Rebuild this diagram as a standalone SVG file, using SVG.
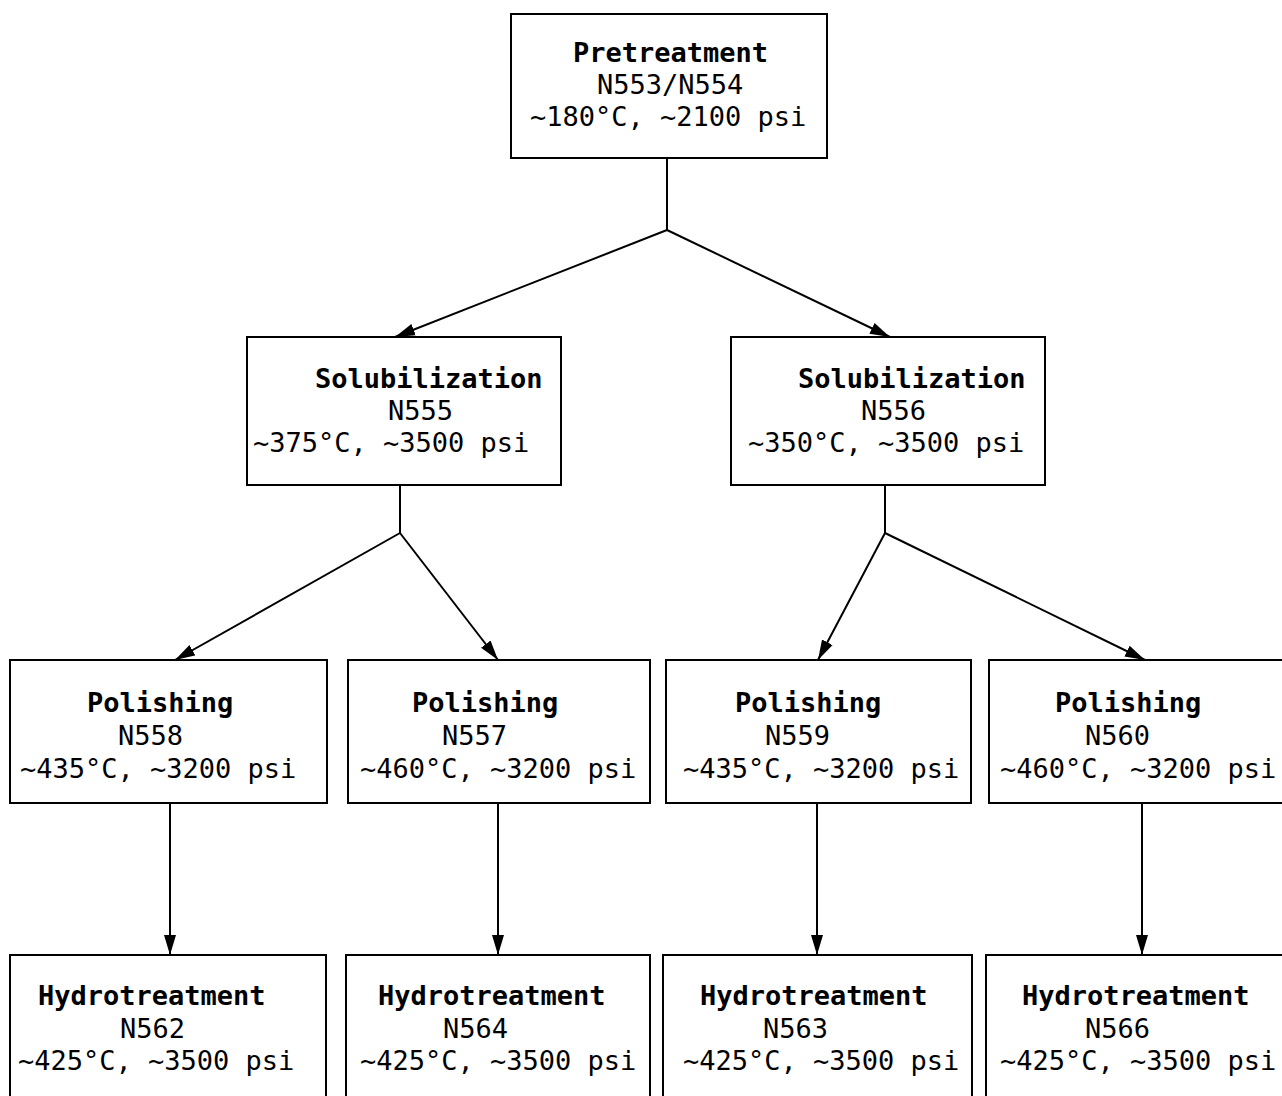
<svg xmlns="http://www.w3.org/2000/svg" width="1282" height="1096" viewBox="0 0 1282 1096">
<style>
.box{fill:#fff;stroke:#000;stroke-width:2}
.t{font-family:"DejaVu Sans Mono","Liberation Mono",monospace;font-size:27px;fill:#000}
.b{font-weight:bold}
.c{fill:none;stroke:#000;stroke-width:2}
</style>
<defs>
<marker id="ah" markerUnits="userSpaceOnUse" markerWidth="22" markerHeight="14" refX="20" refY="7" orient="auto">
<path d="M0,1 L20,7 L0,13 Z" fill="#000"/>
</marker>
</defs>
<rect width="1282" height="1096" fill="#fff"/>
<g id="connectors">
<path class="c" d="M667,158 V230"/>
<path class="c" d="M667,230 L395,337" marker-end="url(#ah)"/>
<path class="c" d="M667,230 L890,337" marker-end="url(#ah)"/>
<path class="c" d="M400,485 V533"/>
<path class="c" d="M400,533 L175,660" marker-end="url(#ah)"/>
<path class="c" d="M400,533 L498,660" marker-end="url(#ah)"/>
<path class="c" d="M885,485 V533"/>
<path class="c" d="M885,533 L818,660" marker-end="url(#ah)"/>
<path class="c" d="M885,533 L1145,660" marker-end="url(#ah)"/>
<path class="c" d="M170,803 V955" marker-end="url(#ah)"/>
<path class="c" d="M498,803 V955" marker-end="url(#ah)"/>
<path class="c" d="M817,803 V955" marker-end="url(#ah)"/>
<path class="c" d="M1142,803 V955" marker-end="url(#ah)"/>
</g>
<g id="pretreatment">
<rect class="box" x="511" y="14" width="316" height="144"/>
<text class="t b" x="573" y="62">Pretreatment</text>
<text class="t" x="597" y="94">N553/N554</text>
<text class="t" x="530" y="126">~180°C, ~2100 psi</text>
</g>
<g id="sol555">
<rect class="box" x="247" y="337" width="314" height="148"/>
<text class="t b" x="315" y="388">Solubilization</text>
<text class="t" x="388" y="420">N555</text>
<text class="t" x="253" y="452">~375°C, ~3500 psi</text>
</g>
<g id="sol556">
<rect class="box" x="731" y="337" width="314" height="148"/>
<text class="t b" x="798" y="388">Solubilization</text>
<text class="t" x="861" y="420">N556</text>
<text class="t" x="748" y="452">~350°C, ~3500 psi</text>
</g>
<g id="pol558">
<rect class="box" x="10" y="660" width="317" height="143"/>
<text class="t b" x="87" y="712">Polishing</text>
<text class="t" x="118" y="745">N558</text>
<text class="t" x="20" y="778">~435°C, ~3200 psi</text>
</g>
<g id="pol557">
<rect class="box" x="348" y="660" width="302" height="143"/>
<text class="t b" x="412" y="712">Polishing</text>
<text class="t" x="442" y="745">N557</text>
<text class="t" x="360" y="778">~460°C, ~3200 psi</text>
</g>
<g id="pol559">
<rect class="box" x="666" y="660" width="305" height="143"/>
<text class="t b" x="735" y="712">Polishing</text>
<text class="t" x="765" y="745">N559</text>
<text class="t" x="683" y="778">~435°C, ~3200 psi</text>
</g>
<g id="pol560">
<rect class="box" x="989" y="660" width="300" height="143"/>
<text class="t b" x="1055" y="712">Polishing</text>
<text class="t" x="1085" y="745">N560</text>
<text class="t" x="1000" y="778">~460°C, ~3200 psi</text>
</g>
<g id="hyd562">
<rect class="box" x="10" y="955" width="316" height="150"/>
<text class="t b" x="38" y="1005">Hydrotreatment</text>
<text class="t" x="120" y="1038">N562</text>
<text class="t" x="18" y="1070">~425°C, ~3500 psi</text>
</g>
<g id="hyd564">
<rect class="box" x="346" y="955" width="304" height="150"/>
<text class="t b" x="378" y="1005">Hydrotreatment</text>
<text class="t" x="443" y="1038">N564</text>
<text class="t" x="360" y="1070">~425°C, ~3500 psi</text>
</g>
<g id="hyd563">
<rect class="box" x="663" y="955" width="309" height="150"/>
<text class="t b" x="700" y="1005">Hydrotreatment</text>
<text class="t" x="763" y="1038">N563</text>
<text class="t" x="683" y="1070">~425°C, ~3500 psi</text>
</g>
<g id="hyd566">
<rect class="box" x="986" y="955" width="303" height="150"/>
<text class="t b" x="1022" y="1005">Hydrotreatment</text>
<text class="t" x="1085" y="1038">N566</text>
<text class="t" x="1000" y="1070">~425°C, ~3500 psi</text>
</g>
</svg>
